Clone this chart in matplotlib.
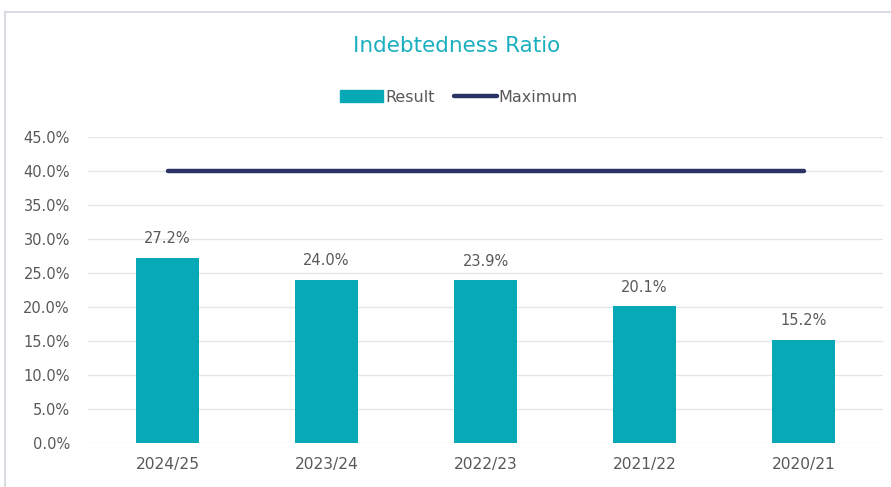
import matplotlib
matplotlib.use("Agg")
import matplotlib.pyplot as plt
from matplotlib.patches import Rectangle
from matplotlib.lines import Line2D
import numpy as np

years = ["2024/25", "2023/24", "2022/23", "2021/22", "2020/21"]
result = [27.2, 24.0, 23.9, 20.1, 15.2]
maximum = [40.0, 40.0, 40.0, 40.0, 40.0]
yticks = [0, 5, 10, 15, 20, 25, 30, 35, 40, 45]

bar_col = "#08A9B7"
line_col = "#2B3266"
txt_col = "#595959"
plt.rcParams['font.family'] = ['DejaVu Sans']

W, H = 891, 487
fig = plt.figure(figsize=(W / 100, H / 100), dpi=100)
# outer chart frame
fig.patches.append(Rectangle((5 / W, -0.1), 1.1, (H - 12) / H + 0.1, transform=fig.transFigure,
                             fill=False, edgecolor="#D9DDE3", linewidth=1.5))

ax = fig.add_axes([88 / W, 1 - 443 / H, (883 - 88) / W, (443 - 137) / H])
x = np.arange(len(years))
ax.bar(x, result, width=0.4, color=bar_col, zorder=2)
ax.plot(x, maximum, color=line_col, linewidth=3.2, solid_capstyle="round", zorder=3)

for xi, v in zip(x, result):
    ax.annotate(f"{v:.1f}%", (xi, v), xytext=(0, 8.5), textcoords="offset points",
                ha="center", va="bottom", fontsize=10.5, color=txt_col)

ax.set_xlim(-0.5, len(years) - 0.5)
ax.set_ylim(0, 45)
ax.set_yticks(yticks)
ax.set_yticklabels([f"{t:.1f}%" for t in yticks])
ax.set_xticks(x)
ax.set_xticklabels(years, fontsize=11.2)
ax.tick_params(axis="both", length=0, labelcolor=txt_col)
ax.tick_params(axis="y", labelsize=10.5, pad=13)
ax.tick_params(axis="x", pad=10)
ax.yaxis.grid(True, color="#E3E6EB", linewidth=1, zorder=0)
ax.set_axisbelow(True)
for s in ax.spines.values():
    s.set_visible(False)

fig.text(457 / W, 1 - 46 / H, "Indebtedness Ratio", ha="center", va="center",
         fontsize=15.5, color="#1BAFC0")

handles = [Rectangle((0, 0), 1, 1, color=bar_col),
           Line2D([0], [0], color=line_col, linewidth=3.2, solid_capstyle="round")]
fig.legend(handles, ["Result", "Maximum"], loc="center", bbox_to_anchor=(459 / W, 1 - 97 / H),
           ncol=2, frameon=False, fontsize=11.5, handlelength=2.7, handletextpad=0.1,
           columnspacing=1.2, labelcolor=txt_col)

fig.savefig("out.png", dpi=100)
